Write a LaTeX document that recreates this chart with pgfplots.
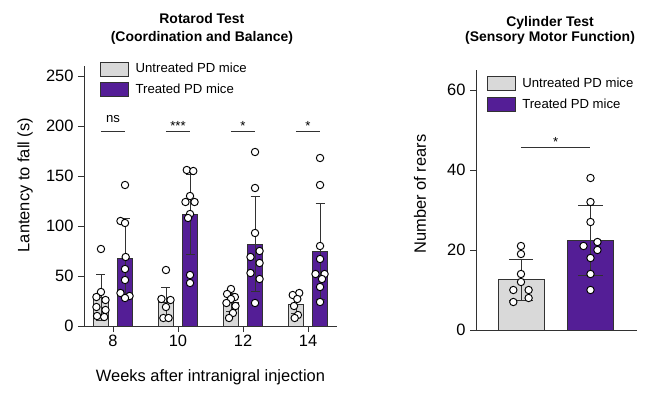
\documentclass[border=0pt]{standalone}
\usepackage{pgfplots}
\pgfplotsset{compat=1.18}
\usepackage{fontspec}
\setmainfont{Liberation Sans}
\definecolor{pdpurple}{RGB}{84,30,150}
\definecolor{pdgray}{RGB}{217,217,217}
\definecolor{axgray}{RGB}{50,50,50}
\newcommand{\tickfont}{\fontsize{16.5}{18}\selectfont}
\newcommand{\labfont}{\fontsize{16.5}{19}\selectfont}
\newcommand{\legfont}{\fontsize{13.2}{15}\selectfont}
\newcommand{\titfont}{\fontsize{14}{16}\selectfont\bfseries}
\pgfplotsset{
  myax/.style={
    scale only axis,
    anchor=south west,
    axis x line*=bottom,
    axis y line*=left,
    axis line style={draw=axgray, line width=0.9bp},
    every tick/.style={draw=axgray, line width=0.9bp},
    major tick length=6bp,
    tick align=outside,
    tick label style={font=\tickfont},
    /pgf/number format/assume math mode=true,
    yticklabel style={xshift=-1bp},
    legend cell align=left,
    clip=false,
  },
  barleg/.style={legend image code/.code={\draw[##1, draw=axgray, line width=0.8bp] (0bp,-7bp) rectangle (28bp,7bp);}},
  dots/.style={only marks, mark=*, mark size=3.7bp, mark options={fill=white, draw=black, line width=0.95bp}, forget plot},
  errs/.style={draw=none, mark=none, forget plot, error bars/.cd, y dir=both, y explicit,
    error bar style={draw=axgray, line width=0.9bp},
    error mark options={rotate=90, draw=axgray, line width=0.9bp, mark size=#1}},
  sig/.style={draw=axgray, line width=0.9bp, forget plot},
}
\begin{document}
\begin{tikzpicture}
\useasboundingbox (0,0) rectangle (650bp,398bp);
% ---------------- Left panel ----------------
\begin{axis}[myax, at={(84bp,72bp)}, width=253bp, height=260bp,
  xmin=-0.446, xmax=3.446, ymin=0, ymax=260,
  xtick={0,1,2,3}, xticklabels={8,10,12,14},
  ytick={0,50,100,150,200,250},
  xlabel={Weeks after intranigral injection},
  ylabel={Lantency to fall (s)},
  xlabel style={font=\labfont, at={(axis description cs:0.5,-0.155)}, anchor=north},
  ylabel style={font=\labfont, at={(axis description cs:-0.233,0.542)}, anchor=center},
  legend style={at={(axis description cs:0.064,1.018)}, anchor=north west, draw=none, fill=none,
    inner sep=0pt, font=\legfont, row sep=6bp,
    nodes={inner sep=1.5bp, anchor=west}, /tikz/every odd column/.append style={column sep=5bp}},
]
\addplot[ybar, bar width=0.23, bar shift=0pt, fill=pdgray, draw=axgray, line width=0.8bp, barleg]
  coordinates {(-0.185,28.6) (0.815,24.0) (1.815,23.6) (2.815,21.7)};
\addlegendentry{Untreated PD mice}
\addplot[ybar, bar width=0.23, bar shift=0pt, fill=pdpurple, draw=axgray, line width=0.8bp, barleg]
  coordinates {(0.185,67.9) (1.185,111.4) (2.185,81.7) (3.185,74.4)};
\addlegendentry{Treated PD mice}
% error bars (mean +- SD)
\addplot[errs=4.5bp] coordinates {
  (-0.185,28.6) +- (0,23) (0.815,24.0) +- (0,15) (1.815,23.6) +- (0,9) (2.815,21.7) +- (0,9)
  (0.185,67.9) +- (0,40) (1.185,111.4) +- (0,40) (2.185,81.7) +- (0,47.5) (3.185,74.4) +- (0,48)};
% individual animals
\addplot[dots] table {
x y
-0.185 77
-0.185 34
-0.255 29
-0.115 26
-0.255 19
-0.115 16
-0.245 10
-0.135 9
0.185 141
0.115 105
0.185 103
0.195 69
0.185 57
0.185 46
0.115 33
0.255 30
0.185 28
0.815 56
0.745 27
0.885 26
0.815 19
0.775 8
0.855 8
1.135 156
1.235 155
1.185 130
1.115 124
1.255 124
1.185 112
1.155 108
1.185 51
1.185 43
1.815 37
1.755 32
1.875 29
1.815 27
1.745 23
1.885 20
1.845 13
1.785 8
2.185 174
2.185 138
2.185 93
2.255 75
2.115 69
2.255 63
2.115 53
2.255 47
2.185 23
2.865 33
2.765 31
2.835 27
2.785 20
2.845 11
2.795 8
3.185 168
3.185 141
3.185 80
3.185 67
3.115 52
3.255 52
3.215 47
3.185 39
3.185 24
};
% significance
\addplot[sig] coordinates {(-0.185,195) (0.185,195)};
\addplot[sig] coordinates {(0.815,195) (1.185,195)};
\addplot[sig] coordinates {(1.815,195) (2.185,195)};
\addplot[sig] coordinates {(2.815,195) (3.185,195)};
\node[anchor=base, font=\legfont] at (axis cs:0,203) {ns};
\node[anchor=base, font=\legfont] at (axis cs:1,195.5) {***};
\node[anchor=base, font=\legfont] at (axis cs:2,195.5) {*};
\node[anchor=base, font=\legfont] at (axis cs:3,195.5) {*};
\node[anchor=base, font=\titfont] at (axis description cs:0.466,1.165) {Rotarod Test};
\node[anchor=base, font=\titfont] at (axis description cs:0.466,1.096) {(Coordination and Balance)};
\end{axis}
% ---------------- Right panel ----------------
\begin{axis}[myax, at={(476bp,68bp)}, width=161bp, height=260bp,
  xmin=-0.647, xmax=1.669, ymin=0, ymax=65,
  xtick=\empty,
  ytick={0,20,40,60},
  ylabel={Number of rears},
  ylabel style={font=\labfont, at={(axis description cs:-0.348,0.523)}, anchor=center},
  legend style={at={(axis description cs:0.067,0.978)}, anchor=north west, draw=none, fill=none,
    inner sep=0pt, font=\legfont, row sep=6bp,
    nodes={inner sep=1.5bp, anchor=west}, /tikz/every odd column/.append style={column sep=5bp}},
]
\addplot[ybar, bar width=0.66, bar shift=0pt, fill=pdgray, draw=axgray, line width=0.8bp, barleg]
  coordinates {(0,12.6)};
\addlegendentry{Untreated PD mice}
\addplot[ybar, bar width=0.66, bar shift=0pt, fill=pdpurple, draw=axgray, line width=0.8bp, barleg]
  coordinates {(1,22.4)};
\addlegendentry{Treated PD mice}
\addplot[errs=12bp] coordinates {(0,12.6) +- (0,5.1) (1,22.4) +- (0,8.75)};
\addplot[dots] table {
x y
0 21
0 19
0 14
0 12
-0.11 10
0.11 10
0.11 8
-0.11 7
1 38
1 32
1 27
1.1 22
0.9 21
1.1 20
1 18
1 14
1 10
};
\addplot[sig] coordinates {(0,45.6) (1,45.6)};
\node[anchor=base, font=\legfont] at (axis cs:0.5,46) {*};
\node[anchor=base, font=\titfont] at (axis description cs:0.46,1.169) {Cylinder Test};
\node[anchor=base, font=\titfont] at (axis description cs:0.46,1.109) {(Sensory Motor Function)};
\end{axis}
\end{tikzpicture}
\end{document}
